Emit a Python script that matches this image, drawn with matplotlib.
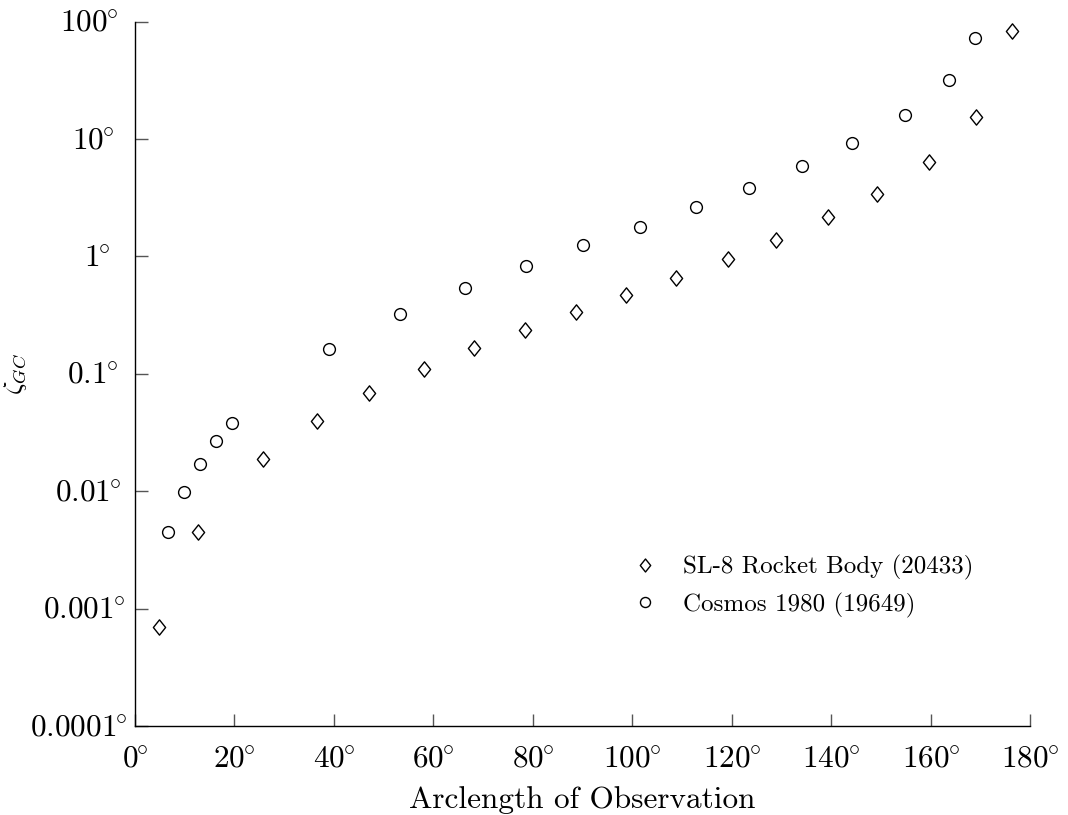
import matplotlib
matplotlib.use("Agg")
from matplotlib import pyplot as plt
from matplotlib.ticker import FixedLocator, FixedFormatter
from matplotlib.transforms import ScaledTranslation
from matplotlib.path import Path

# SL-8 Rocket Body (20433)
sl8_arc = [4.8, 12.7, 25.7, 36.6, 47.0, 58.1, 68.1, 78.4, 88.6, 98.7,
           108.9, 119.2, 129.0, 139.3, 149.3, 159.6, 169.2, 176.3]
sl8_zeta = [0.0007, 0.0045, 0.0188, 0.0397, 0.0687, 0.110, 0.166, 0.237, 0.337, 0.47,
            0.656, 0.953, 1.38, 2.17, 3.40, 6.38, 15.4, 83.4]

# Cosmos 1980 (19649)
cos_arc = [6.6, 9.8, 13.1, 16.3, 19.5, 39.0, 53.3, 66.3, 78.6, 90.0,
           101.5, 112.8, 123.4, 134.1, 144.3, 154.8, 163.8, 169.0]
cos_zeta = [0.0045, 0.00986, 0.0171, 0.0268, 0.0382, 0.163, 0.324, 0.54, 0.83, 1.25,
            1.78, 2.64, 3.83, 5.90, 9.27, 16.0, 31.8, 72.6]

xticks = [0, 20, 40, 60, 80, 100, 120, 140, 160, 180]
yticks = [1e-4, 1e-3, 1e-2, 1e-1, 1, 10, 100]
ytick_labels = ["0.0001", "0.001", "0.01", "0.1", "1", "10", "100"]


def deg(s):
    return "$" + s + r"\hspace{-0.08}^{\circ}$"


def main():
    plt.rcParams["mathtext.fontset"] = "cm"
    plt.rcParams["font.family"] = "serif"
    plt.rcParams["font.serif"] = ["cmr10"]
    plt.rcParams["axes.unicode_minus"] = False

    fig = plt.figure(figsize=(10.68, 8.15), dpi=100)
    ax = fig.add_axes([135 / 1068, 1 - 726 / 815, (1030 - 135) / 1068, (726 - 21.7) / 815])

    diamond = Path([(0, 1), (0.8, 0), (0, -1), (-0.8, 0), (0, 1)],
                   [Path.MOVETO, Path.LINETO, Path.LINETO, Path.LINETO, Path.CLOSEPOLY])

    ax.plot(sl8_arc, sl8_zeta, linestyle="none", marker=diamond, markersize=11,
            markerfacecolor="white", markeredgecolor="black", markeredgewidth=1.0,
            label="SL-8 Rocket Body (20433)")
    ax.plot(cos_arc, cos_zeta, linestyle="none", marker="o", markersize=8.5,
            markerfacecolor="white", markeredgecolor="black", markeredgewidth=1.0,
            label="Cosmos 1980 (19649)")

    ax.set_yscale("log")
    ax.set_xlim(0, 180)
    ax.set_ylim(1e-4, 100)

    ax.xaxis.set_major_locator(FixedLocator(xticks))
    ax.xaxis.set_major_formatter(FixedFormatter([deg(str(t)) for t in xticks]))
    ax.yaxis.set_major_locator(FixedLocator(yticks))
    ax.yaxis.set_major_formatter(FixedFormatter([deg(t) for t in ytick_labels]))
    ax.yaxis.set_minor_locator(FixedLocator([]))

    ax.tick_params(direction="in", length=9, width=1, color="#555555", labelsize=22.5)
    ax.tick_params(axis="y", pad=5)
    ax.tick_params(axis="x", pad=15)

    for side in ["top", "right"]:
        ax.spines[side].set_visible(False)
    for side in ["left", "bottom"]:
        ax.spines[side].set_linewidth(1.0)

    ax.set_xlabel("Arclength of Observation", fontsize=22.5, labelpad=8)
    ax.set_ylabel(r"$\zeta_{GC}$", fontsize=19)
    ax.yaxis.set_label_coords(-0.118, 0.5)

    ax.legend(loc="upper left", bbox_to_anchor=(0.556, 0.243), frameon=False,
              fontsize=18, markerscale=0.85, handlelength=1.0, handletextpad=1.0,
              labelspacing=0.5, borderpad=0, borderaxespad=0)

    # shorter y labels sit a little further from the axis, as in the original
    fig.canvas.draw()
    for tick, lab in zip(ax.yaxis.get_major_ticks(), ytick_labels):
        dx = 3.4 * (6 - len(lab)) / 100
        tick.label1.set_transform(tick.label1.get_transform()
                                  + ScaledTranslation(-dx, 0, fig.dpi_scale_trans))

    fig.savefig("out.png", dpi=100)


if __name__ == "__main__":
    main()
